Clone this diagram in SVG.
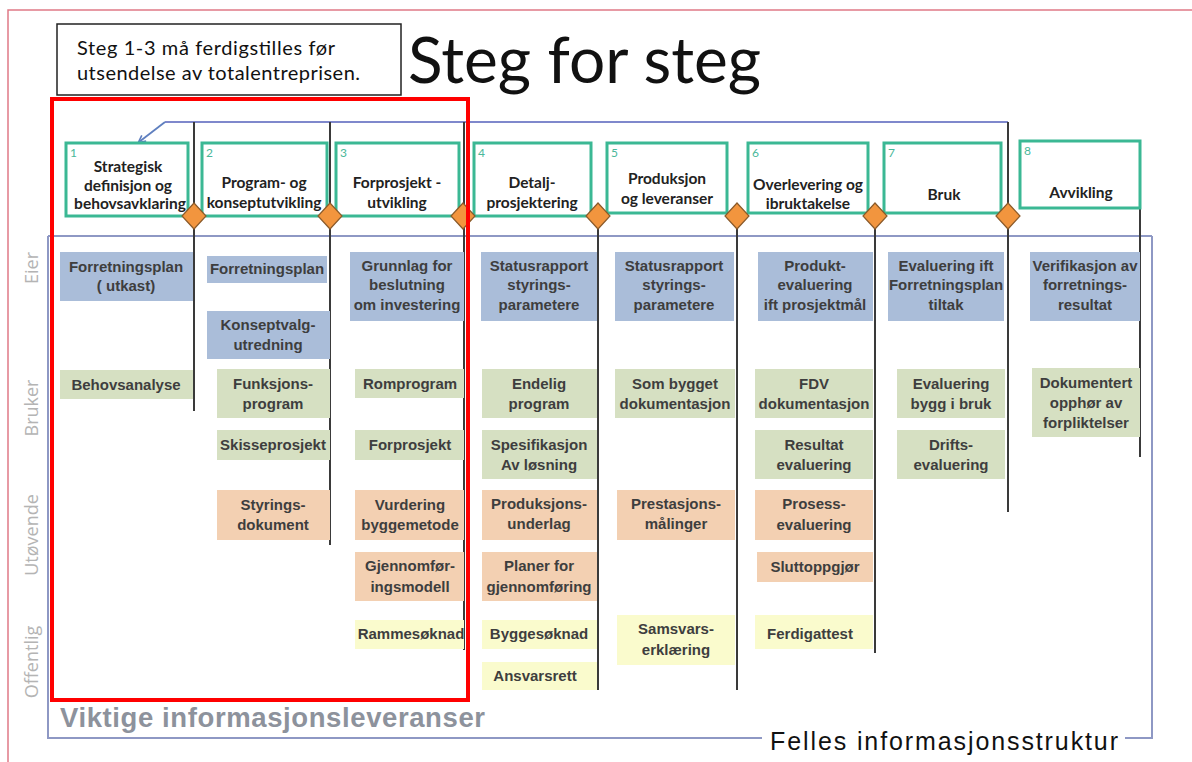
<svg xmlns="http://www.w3.org/2000/svg" width="1192" height="762" viewBox="0 0 1192 762">
<defs>
<marker id="ah" viewBox="0 0 10 10" refX="8" refY="5" markerWidth="9" markerHeight="9" orient="auto-start-reverse" markerUnits="userSpaceOnUse">
<path d="M1,1 L9,5 L1,9" fill="none" stroke="#5f7fbf" stroke-width="1.8"/>
</marker>
<style>
.stage{fill:#fff;stroke:#3bb894;stroke-width:3}
.num{font-family:"Lato","Liberation Sans",sans-serif;font-size:12px;fill:#4ab89a}
.st{font-family:"Lato","Liberation Sans",sans-serif;font-size:15.5px;font-weight:bold;fill:#222;text-anchor:middle}
.blue{fill:#aabdd9}
.green{fill:#d6e0c2}
.orange{fill:#f3d0b2}
.yellow{fill:#fafbcd}
.t{font-family:"Liberation Sans",Arial,sans-serif;font-size:15px;font-weight:bold;fill:#3e3e3e;text-anchor:middle}
.vl{stroke:#3a3a3a;stroke-width:2;fill:none}
.dia{fill:#f2953e;stroke:#8a5a2a;stroke-width:1.2}
.frame{stroke:#8e98c4;stroke-width:2;fill:none}
.row{font-family:"Open Sans","Liberation Sans",sans-serif;font-size:18px;fill:#b4b4b4;text-anchor:middle}
.note{font-family:"Lato","Liberation Sans",sans-serif;font-size:20px;fill:#111}
</style>
</defs>
<rect width="1192" height="762" fill="#fff"/>
<path d="M8,762 L8,10 L1192,10" fill="none" stroke="#e07a86" stroke-width="1.5"/>

<g id="note">
<rect x="57" y="24" width="344" height="71" fill="#fff" stroke="#222" stroke-width="1.5"/>
<text class="note" x="77" y="55" textLength="258">Steg 1-3 må ferdigstilles før</text>
<text class="note" x="77" y="80" textLength="283">utsendelse av totalentreprisen.</text>
</g>
<g id="title">
<text x="408" y="83" font-family="Lato, 'Liberation Sans', sans-serif" font-size="64" fill="#111">Steg for steg</text>
</g>

<g id="frame">
<path class="frame" d="M48,236 L1152,236 M48,236 L48,738 L762,738 M1125,738 L1152,738 L1152,236"/>
<text x="60" y="727" font-family="'Liberation Sans', Arial, sans-serif" font-size="27.5" font-weight="bold" fill="#8d929c" textLength="425">Viktige informasjonsleveranser</text>
<text x="770" y="750" font-family="'Liberation Sans', Arial, sans-serif" font-size="25" fill="#111" textLength="348">Felles informasjonsstruktur</text>
</g>

<g id="rows">
<text class="row" transform="translate(38,268) rotate(-90)">Eier</text>
<text class="row" transform="translate(38,408) rotate(-90)">Bruker</text>
<text class="row" transform="translate(38,535) rotate(-90)">Utøvende</text>
<text class="row" transform="translate(38,662) rotate(-90)">Offentlig</text>
</g>

<g id="connectors">
<path d="M165,122 L1008,122" stroke="#7f88cc" stroke-width="2" fill="none"/>
<path d="M165,122 L139,142" stroke="#5f7fbf" stroke-width="1.8" fill="none" marker-end="url(#ah)"/>
<path class="vl" d="M194,122 L194,411"/>
<path class="vl" d="M330,122 L330,545"/>
<path class="vl" d="M464,122 L464,650"/>
<path class="vl" d="M598,216 L598,690"/>
<path class="vl" d="M737,216 L737,690"/>
<path class="vl" d="M875,216 L875,653"/>
<path class="vl" d="M1008,122 L1008,512"/>
<path class="vl" d="M1140,208 L1140,457"/>
</g>

<g id="stage1"><rect class="stage" x="66" y="143" width="122" height="73"/><text class="num" x="70" y="157">1</text>
<text class="st" x="128" y="172">Strategisk</text><text class="st" x="128" y="191">definisjon og</text><text class="st" x="130" y="209">behovsavklaring</text></g>
<g id="stage2"><rect class="stage" x="202" y="143" width="125" height="73"/><text class="num" x="206" y="157">2</text>
<text class="st" x="264" y="188">Program- og</text><text class="st" x="264" y="208">konseptutvikling</text></g>
<g id="stage3"><rect class="stage" x="336" y="143" width="123" height="73"/><text class="num" x="340" y="157">3</text>
<text class="st" x="397" y="188">Forprosjekt -</text><text class="st" x="397" y="208">utvikling</text></g>
<g id="stage4"><rect class="stage" x="474" y="143" width="117" height="73"/><text class="num" x="478" y="157">4</text>
<text class="st" x="532" y="188">Detalj-</text><text class="st" x="532" y="208">prosjektering</text></g>
<g id="stage5"><rect class="stage" x="607" y="143" width="120" height="70"/><text class="num" x="611" y="157">5</text>
<text class="st" x="667" y="184">Produksjon</text><text class="st" x="667" y="204">og leveranser</text></g>
<g id="stage6"><rect class="stage" x="748" y="143" width="120" height="70"/><text class="num" x="752" y="157">6</text>
<text class="st" x="808" y="190">Overlevering og</text><text class="st" x="808" y="209">ibruktakelse</text></g>
<g id="stage7"><rect class="stage" x="884" y="143" width="117" height="70"/><text class="num" x="888" y="157">7</text>
<text class="st" x="944" y="200">Bruk</text></g>
<g id="stage8"><rect class="stage" x="1020" y="141" width="120" height="67"/><text class="num" x="1024" y="155">8</text>
<text class="st" x="1081" y="198">Avvikling</text></g>

<g id="milestones">
<path class="dia" d="M194,203 L206,216 L194,229 L182,216 Z"/>
<path class="dia" d="M330,203 L342,216 L330,229 L318,216 Z"/>
<path class="dia" d="M463,203 L475,216 L463,229 L451,216 Z"/>
<path class="dia" d="M598,203 L610,216 L598,229 L586,216 Z"/>
<path class="dia" d="M737,203 L749,216 L737,229 L725,216 Z"/>
<path class="dia" d="M875,203 L887,216 L875,229 L863,216 Z"/>
<path class="dia" d="M1008,203 L1020,216 L1008,229 L996,216 Z"/>
</g>

<g id="col1">
<g id="c1-forretningsplan"><rect class="blue" x="60" y="252" width="133" height="49"/><text class="t" x="126" y="272">Forretningsplan</text><text class="t" x="126" y="291">( utkast)</text></g>
<g id="c1-behovsanalyse"><rect class="green" x="60" y="370" width="133" height="29"/><text class="t" x="126" y="390">Behovsanalyse</text></g>
</g>
<g id="col2">
<g id="c2-forretningsplan"><rect class="blue" x="207" y="256" width="120" height="27"/><text class="t" x="267" y="274">Forretningsplan</text></g>
<g id="c2-konseptvalg"><rect class="blue" x="207" y="311" width="123" height="48"/><text class="t" x="268" y="330">Konseptvalg-</text><text class="t" x="268" y="350">utredning</text></g>
<g id="c2-funksjonsprogram"><rect class="green" x="217" y="369" width="113" height="49"/><text class="t" x="273" y="389">Funksjons-</text><text class="t" x="273" y="409">program</text></g>
<g id="c2-skisseprosjekt"><rect class="green" x="217" y="430" width="113" height="30"/><text class="t" x="273" y="450">Skisseprosjekt</text></g>
<g id="c2-styringsdokument"><rect class="orange" x="217" y="490" width="113" height="50"/><text class="t" x="273" y="510">Styrings-</text><text class="t" x="273" y="530">dokument</text></g>
</g>
<g id="col3">
<g id="c3-grunnlag"><rect class="blue" x="350" y="252" width="114" height="69"/><text class="t" x="407" y="271">Grunnlag for</text><text class="t" x="407" y="290">beslutning</text><text class="t" x="407" y="310">om investering</text></g>
<g id="c3-romprogram"><rect class="green" x="355" y="369" width="109" height="29"/><text class="t" x="410" y="389">Romprogram</text></g>
<g id="c3-forprosjekt"><rect class="green" x="355" y="430" width="109" height="30"/><text class="t" x="410" y="450">Forprosjekt</text></g>
<g id="c3-vurdering"><rect class="orange" x="355" y="490" width="109" height="50"/><text class="t" x="410" y="510">Vurdering</text><text class="t" x="410" y="530">byggemetode</text></g>
<g id="c3-gjennomforing"><rect class="orange" x="355" y="552" width="109" height="49"/><text class="t" x="410" y="571">Gjennomfør-</text><text class="t" x="410" y="592">ingsmodell</text></g>
<g id="c3-rammesoknad"><rect class="yellow" x="355" y="620" width="109" height="29"/><text class="t" x="411" y="639">Rammesøknad</text></g>
</g>
<g id="col4">
<g id="c4-status"><rect class="blue" x="481" y="252" width="116" height="69"/><text class="t" x="539" y="271">Statusrapport</text><text class="t" x="539" y="290">styrings-</text><text class="t" x="539" y="310">parametere</text></g>
<g id="c4-endelig"><rect class="green" x="482" y="369" width="115" height="49"/><text class="t" x="539" y="389">Endelig</text><text class="t" x="539" y="409">program</text></g>
<g id="c4-spesifikasjon"><rect class="green" x="482" y="430" width="115" height="49"/><text class="t" x="539" y="450">Spesifikasjon</text><text class="t" x="539" y="470">Av løsning</text></g>
<g id="c4-produksjonsunderlag"><rect class="orange" x="482" y="490" width="115" height="50"/><text class="t" x="539" y="509">Produksjons-</text><text class="t" x="539" y="529">underlag</text></g>
<g id="c4-planer"><rect class="orange" x="482" y="552" width="115" height="49"/><text class="t" x="539" y="571">Planer for</text><text class="t" x="539" y="592">gjennomføring</text></g>
<g id="c4-byggesoknad"><rect class="yellow" x="482" y="620" width="115" height="29"/><text class="t" x="539" y="639">Byggesøknad</text></g>
<g id="c4-ansvarsrett"><rect class="yellow" x="482" y="662" width="115" height="28"/><text class="t" x="535" y="681">Ansvarsrett</text></g>
</g>
<g id="col5">
<g id="c5-status"><rect class="blue" x="615" y="252" width="119" height="69"/><text class="t" x="674" y="271">Statusrapport</text><text class="t" x="674" y="290">styrings-</text><text class="t" x="674" y="310">parametere</text></g>
<g id="c5-sombygget"><rect class="green" x="615" y="369" width="120" height="49"/><text class="t" x="675" y="389">Som bygget</text><text class="t" x="675" y="409">dokumentasjon</text></g>
<g id="c5-prestasjon"><rect class="orange" x="617" y="490" width="118" height="50"/><text class="t" x="676" y="509">Prestasjons-</text><text class="t" x="676" y="529">målinger</text></g>
<g id="c5-samsvar"><rect class="yellow" x="617" y="615" width="118" height="50"/><text class="t" x="676" y="634">Samsvars-</text><text class="t" x="676" y="655">erklæring</text></g>
</g>
<g id="col6">
<g id="c6-produkt"><rect class="blue" x="758" y="252" width="115" height="69"/><text class="t" x="815" y="271">Produkt-</text><text class="t" x="815" y="290">evaluering</text><text class="t" x="815" y="310">ift prosjektmål</text></g>
<g id="c6-fdv"><rect class="green" x="755" y="369" width="118" height="49"/><text class="t" x="814" y="389">FDV</text><text class="t" x="814" y="409">dokumentasjon</text></g>
<g id="c6-resultat"><rect class="green" x="755" y="430" width="118" height="49"/><text class="t" x="814" y="450">Resultat</text><text class="t" x="814" y="470">evaluering</text></g>
<g id="c6-prosess"><rect class="orange" x="755" y="490" width="118" height="50"/><text class="t" x="814" y="509">Prosess-</text><text class="t" x="814" y="530">evaluering</text></g>
<g id="c6-sluttoppgjor"><rect class="orange" x="757" y="552" width="116" height="30"/><text class="t" x="815" y="572">Sluttoppgjør</text></g>
<g id="c6-ferdigattest"><rect class="yellow" x="755" y="615" width="118" height="34"/><text class="t" x="810" y="639">Ferdigattest</text></g>
</g>
<g id="col7">
<g id="c7-evaluering"><rect class="blue" x="888" y="252" width="116" height="69"/><text class="t" x="946" y="271">Evaluering ift</text><text class="t" x="946" y="290">Forretningsplan</text><text class="t" x="946" y="310">tiltak</text></g>
<g id="c7-bygg"><rect class="green" x="897" y="369" width="108" height="49"/><text class="t" x="951" y="389">Evaluering</text><text class="t" x="951" y="409">bygg i bruk</text></g>
<g id="c7-drift"><rect class="green" x="897" y="430" width="108" height="49"/><text class="t" x="951" y="450">Drifts-</text><text class="t" x="951" y="470">evaluering</text></g>
</g>
<g id="col8">
<g id="c8-verifikasjon"><rect class="blue" x="1030" y="252" width="110" height="69"/><text class="t" x="1085" y="271">Verifikasjon av</text><text class="t" x="1085" y="290">forretnings-</text><text class="t" x="1085" y="310">resultat</text></g>
<g id="c8-dokumentert"><rect class="green" x="1032" y="368" width="108" height="69"/><text class="t" x="1086" y="388">Dokumentert</text><text class="t" x="1086" y="408">opphør av</text><text class="t" x="1086" y="428">forpliktelser</text></g>
</g>

<g id="highlight">
<rect x="52" y="99" width="416" height="601" fill="none" stroke="#ff0000" stroke-width="4"/>
</g>
</svg>
